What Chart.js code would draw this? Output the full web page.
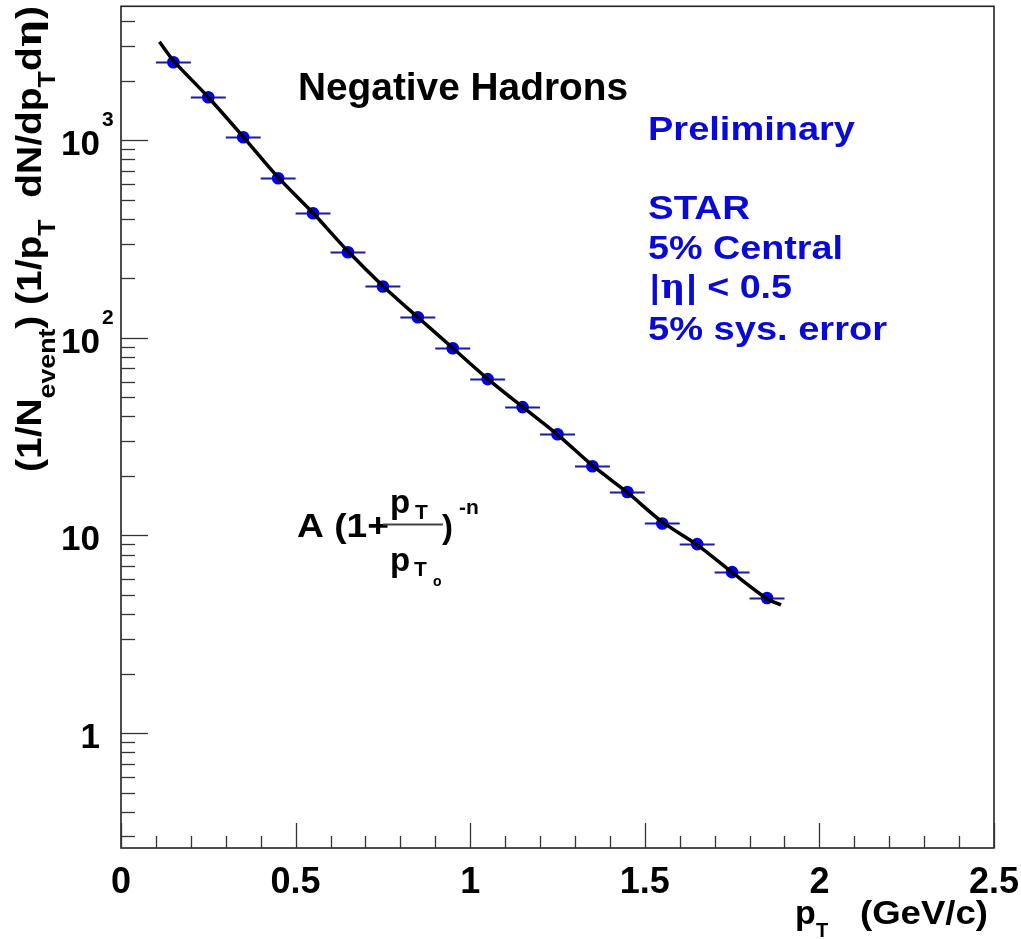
<!DOCTYPE html>
<html>
<head>
<meta charset="utf-8">
<script src="https://cdn.jsdelivr.net/npm/chart.js@4"></script>
<style>
  html, body { margin: 0; padding: 0; background: #ffffff; }
  #wrap { width: 1021px; height: 939px; position: relative; }
</style>
</head>
<body>
<div id="wrap"><canvas id="c" width="1021" height="939"></canvas></div>
<script>
// ---- data ----
const ptBins   = [0.15,0.25,0.35,0.45,0.55,0.65,0.75,0.85,0.95,1.05,1.15,1.25,1.35,1.45,1.55,1.65,1.75,1.85];
const yieldVal = [2480,1650,1035,642,427,271,182,127,88.6,61.8,44.6,32.5,22.4,16.6,11.5,9.04,6.52,4.82];
const ptHalfW  = [0.05,0.05,0.05,0.05,0.05,0.05,0.05,0.05,0.05,0.05,0.05,0.05,0.05,0.05,0.05,0.05,0.05,0.05];
const fitX     = [0.11,0.15,0.25,0.35,0.45,0.55,0.65,0.75,0.85,0.95,1.05,1.15,1.25,1.35,1.45,1.55,1.65,1.75,1.85,1.89];
const fitY     = [3150,2530,1650,1040,648,428,274,183,127,88.8,62,44.7,32.4,22.6,16.5,11.7,8.95,6.5,4.78,4.45];
const xMajorTicks = [0,0.5,1,1.5,2,2.5];
const xTickLabels = ["0","0.5","1","1.5","2","2.5"];
const yMajorTicks = [1,10,100,1000];
const yTickBase   = ["1","10","10","10"];
const yTickExp    = ["","","2","3"];
const xRange = [0, 2.5];
const yRange = [0.262, 4760];

const FONT = '"Liberation Sans", Arial, Helvetica, sans-serif';
const BLUE = 'rgb(10,10,215)';

function txt(ctx, s, x, y, size, color, opts) {
  opts = opts || {};
  ctx.save();
  ctx.font = 'bold ' + size + 'px ' + (opts.family || FONT);
  ctx.fillStyle = color || '#000';
  ctx.textBaseline = 'alphabetic';
  const w = ctx.measureText(s).width;
  const sx = opts.width ? opts.width / w : 1;
  let x0 = x;
  if (opts.align === 'right') x0 = x - w * sx;
  else if (opts.align === 'center') x0 = x - w * sx / 2;
  ctx.translate(x0, y);
  ctx.scale(sx, 1);
  ctx.textAlign = 'left';
  ctx.fillText(s, 0, 0);
  ctx.restore();
  return w * sx;
}

function richRotated(ctx, segs, x, y, size, subSize, subShift, targetLen) {
  ctx.save();
  ctx.translate(x, y);
  ctx.rotate(-Math.PI / 2);
  let total = 0;
  segs.forEach(s => {
    ctx.font = 'bold ' + (s.sub ? subSize : size) + 'px ' + (s.family || FONT);
    total += ctx.measureText(s.t).width;
  });
  const sc = targetLen / total;
  ctx.scale(sc, 1);
  let cx = 0;
  ctx.fillStyle = '#000';
  ctx.textBaseline = 'alphabetic';
  segs.forEach(s => {
    ctx.font = 'bold ' + (s.sub ? subSize : size) + 'px ' + (s.family || FONT);
    ctx.fillText(s.t, cx, s.sub ? subShift : 0);
    cx += ctx.measureText(s.t).width;
  });
  ctx.restore();
}

const decor = {
  id: 'decor',
  beforeDatasetsDraw(chart) {
    const ctx = chart.ctx, xs = chart.scales.x, ys = chart.scales.y;
    ctx.save();
    ctx.strokeStyle = 'rgb(25,25,170)';
    ctx.lineWidth = 1.8;
    ptBins.forEach((x, i) => {
      const py = Math.round(ys.getPixelForValue(yieldVal[i])) + 0.5;
      ctx.beginPath();
      ctx.moveTo(xs.getPixelForValue(x - ptHalfW[i]), py);
      ctx.lineTo(xs.getPixelForValue(x + ptHalfW[i]), py);
      ctx.stroke();
    });
    ctx.restore();
  },
  afterDraw(chart) {
    const ctx = chart.ctx, xs = chart.scales.x, ys = chart.scales.y;
    const a = chart.chartArea;
    ctx.save();
    ctx.strokeStyle = '#222';
    ctx.lineWidth = 1.6;
    ctx.strokeRect(a.left, a.top, a.right - a.left, a.bottom - a.top);
    ctx.lineWidth = 1.3;
    ctx.strokeStyle = '#333';
    for (let k = 0; k <= 25; k++) {
      const v = k / 10;
      const px = Math.round(xs.getPixelForValue(v)) + 0.5;
      const major = (k % 5 === 0);
      ctx.beginPath();
      ctx.moveTo(px, a.bottom);
      ctx.lineTo(px, a.bottom - (major ? 25 : 12));
      ctx.stroke();
    }
    for (let e = -1; e <= 3; e++) {
      for (let m = 1; m <= 9; m++) {
        const v = m * Math.pow(10, e);
        if (v < yRange[0] || v > yRange[1]) continue;
        const py = Math.round(ys.getPixelForValue(v)) + 0.5;
        ctx.beginPath();
        ctx.moveTo(a.left, py);
        ctx.lineTo(a.left + (m === 1 ? 27 : 14), py);
        ctx.stroke();
      }
    }
    ctx.restore();

    xMajorTicks.forEach((v, i) => {
      txt(ctx, xTickLabels[i], xs.getPixelForValue(v), 893, 36, '#000', {align: 'center'});
    });
    yMajorTicks.forEach((v, i) => {
      const py = ys.getPixelForValue(v);
      txt(ctx, yTickBase[i], 100, py + 15, 35, '#000', {align: 'right'});
      if (yTickExp[i]) txt(ctx, yTickExp[i], 102, py - 14, 21, '#000');
    });

    txt(ctx, 'p', 795, 924, 34, '#000');
    txt(ctx, 'T', 816, 937, 20, '#000');
    txt(ctx, '(GeV/c)', 860, 924, 34, '#000', {width: 128});

    richRotated(ctx, [
      {t: '(1/N'}, {t: 'event', sub: true}, {t: ') (1/p'}, {t: 'T', sub: true},
      {t: '  dN/dp'}, {t: 'T', sub: true}, {t: 'd'}, {t: '\u03B7', family: '"DejaVu Serif", serif'}, {t: ')'}
    ], 41, 472, 35, 24, 14, 466);

    txt(ctx, 'Negative Hadrons', 298, 100, 38, '#000', {width: 330});
    txt(ctx, 'Preliminary', 648, 140, 34, BLUE, {width: 207});
    txt(ctx, 'STAR', 648, 219, 34, BLUE, {width: 102});
    txt(ctx, '5% Central', 648, 259, 34, BLUE, {width: 195});
    const wBar = txt(ctx, '|', 650, 298, 34, BLUE);
    const wEta = txt(ctx, '\u03B7', 650 + wBar + 1, 298, 34, BLUE, {family: '"DejaVu Serif", serif'});
    txt(ctx, '| < 0.5', 650 + wBar + wEta + 2, 298, 34, BLUE, {width: 142 - wBar - wEta - 2});
    txt(ctx, '5% sys. error', 648, 340, 34, BLUE, {width: 239});

    txt(ctx, 'A (1+', 297, 537, 33, '#000', {width: 92});
    txt(ctx, 'p', 390, 513, 33, '#000');
    txt(ctx, 'T', 415, 519, 21, '#000');
    ctx.save();
    ctx.strokeStyle = '#444';
    ctx.lineWidth = 2;
    ctx.beginPath();
    ctx.moveTo(383, 524.5); ctx.lineTo(443, 524.5);
    ctx.stroke();
    ctx.restore();
    txt(ctx, ')', 442, 538, 33, '#000');
    txt(ctx, '-n', 459, 514, 21, '#000');
    txt(ctx, 'p', 390, 571, 33, '#000');
    txt(ctx, 'T', 414, 576, 21, '#000');
    txt(ctx, 'o', 433, 586, 14, '#000');
  }
};

const ctxEl = document.getElementById('c');
new Chart(ctxEl, {
  type: 'scatter',
  data: {
    datasets: [
      {
        type: 'line',
        label: 'fit',
        data: fitX.map((x, i) => ({x: x, y: fitY[i]})),
        borderColor: '#000',
        borderWidth: 3.5,
        pointRadius: 0,
        fill: false,
        tension: 0.3,
        order: 0
      },
      {
        label: 'data',
        data: ptBins.map((x, i) => ({x: x, y: yieldVal[i]})),
        backgroundColor: 'rgb(0,0,225)',
        borderWidth: 0,
        pointRadius: 6.3,
        order: 1
      }
    ]
  },
  options: {
    responsive: false,
    animation: false,
    devicePixelRatio: 1,
    layout: { padding: { left: 121, top: 6, right: 27, bottom: 91 } },
    plugins: { legend: { display: false }, tooltip: { enabled: false } },
    scales: {
      x: { type: 'linear', min: xRange[0], max: xRange[1], display: false },
      y: { type: 'logarithmic', min: yRange[0], max: yRange[1], display: false }
    }
  },
  plugins: [decor]
});
</script>
</body>
</html>
